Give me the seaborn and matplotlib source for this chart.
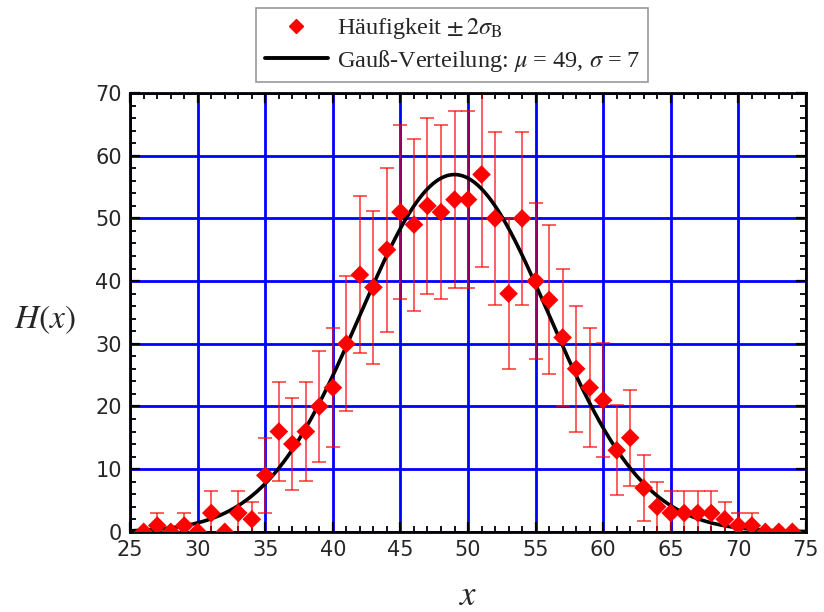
import numpy as np
import pandas as pd
import matplotlib
matplotlib.use("Agg")
import matplotlib.pyplot as plt
from matplotlib.lines import Line2D
import seaborn as sns

# ---- data ----
x_vals = [26, 27, 28, 29, 30, 31, 32, 33, 34, 35, 36, 37, 38, 39, 40, 41, 42, 43, 44, 45,
          46, 47, 48, 49, 50, 51, 52, 53, 54, 55, 56, 57, 58, 59, 60, 61, 62, 63, 64, 65,
          66, 67, 68, 69, 70, 71, 72, 73, 74]
counts = [0, 1, 0, 1, 0, 3, 0, 3, 2, 9, 16, 14, 16, 20, 23, 30, 41, 39, 45, 51,
          49, 52, 51, 53, 53, 57, 50, 38, 50, 40, 37, 31, 26, 23, 21, 13, 15, 7, 4, 3,
          3, 3, 3, 2, 1, 1, 0, 0, 0]
# +/- 2 sigma_B error half-widths
err2 = [0.0, 2.0, 0.0, 2.0, 0.0, 3.5, 0.0, 3.5, 2.8, 6.0, 7.9, 7.4, 7.9, 8.9, 9.5, 10.8, 12.5, 12.2, 13.1, 13.9,
        13.7, 14.0, 13.9, 14.1, 14.1, 14.7, 13.8, 12.1, 13.8, 12.4, 11.9, 11.0, 10.1, 9.5, 9.1, 7.2, 7.7, 5.3, 4.0, 3.5,
        3.5, 3.5, 3.5, 2.8, 2.0, 2.0, 0.0, 0.0, 0.0]
mu = 49
sigma = 7
n_total = 1000
x_ticks = [25, 30, 35, 40, 45, 50, 55, 60, 65, 70, 75]
y_ticks = [0, 10, 20, 30, 40, 50, 60, 70]
legend_labels = [r"Häufigkeit $\pm\,2\sigma_{\mathrm{B}}$",
                 r"Gauß-Verteilung: $\mu$ = 49, $\sigma$ = 7"]

df = pd.DataFrame({"x": x_vals, "H": counts, "err": err2})
xs = np.linspace(25, 75, 600)
curve = pd.DataFrame({"x": xs,
                      "g": n_total / (sigma * np.sqrt(2 * np.pi)) * np.exp(-0.5 * ((xs - mu) / sigma) ** 2)})

sns.set_style("white")
plt.rcParams["font.family"] = ["DejaVu Sans"]
plt.rcParams["mathtext.fontset"] = "stix"

fig = plt.figure(figsize=(8.24, 6.12), dpi=100)
ax = fig.add_axes([0.158, 0.131, 0.820, 0.717])

ax.set_axisbelow(True)
ax.grid(True, which="major", color="#0000ff", lw=2, zorder=0)

ax.errorbar(df["x"], df["H"], yerr=df["err"], fmt="none", ecolor="red", elinewidth=1.1,
            capsize=5, capthick=1.1, alpha=0.8, zorder=2)
sns.lineplot(data=curve, x="x", y="g", color="black", lw=2.6, ax=ax, zorder=3)
sns.scatterplot(data=df, x="x", y="H", marker="D", color="red", s=90, edgecolor="none",
                ax=ax, zorder=4)

ax.set_xlim(25, 75)
ax.set_ylim(0, 70)
ax.set_xticks(x_ticks)
ax.set_yticks(y_ticks)
ax.set_xticks(np.arange(25, 76, 1), minor=True)
ax.set_yticks(np.arange(0, 71, 2), minor=True)
ax.tick_params(which="both", direction="in", top=True, right=True, bottom=True, left=True,
               color="black")
ax.tick_params(which="major", length=7, width=1.6, labelsize=15, pad=6)
ax.tick_params(which="minor", length=4, width=1.3)
for s in ax.spines.values():
    s.set_linewidth(2)
    s.set_color("black")

ax.set_xlabel(r"$x$", fontsize=25)
ax.set_ylabel(r"$H(x)$", fontsize=24, rotation=0)
ax.xaxis.label.set_va("center")
ax.yaxis.label.set_va("center")
ax.yaxis.label.set_ha("center")
ax.xaxis.set_label_coords(0.5, -0.144)
ax.yaxis.set_label_coords(-0.126, 0.483)

handles = [Line2D([], [], marker="D", color="red", ls="none", markersize=7),
           Line2D([], [], color="black", lw=2.8)]
leg = fig.legend(handles, legend_labels, loc="upper center", bbox_to_anchor=(0.549, 0.987),
                 frameon=True, fancybox=False, edgecolor="#999999", framealpha=1,
                 prop={"family": "Liberation Serif", "size": 17.5}, handlelength=2.6,
                 borderpad=0.35, labelspacing=0.25, handletextpad=0.35, borderaxespad=0)
leg.get_frame().set_linewidth(1.2)

fig.savefig("out.png", dpi=100)
